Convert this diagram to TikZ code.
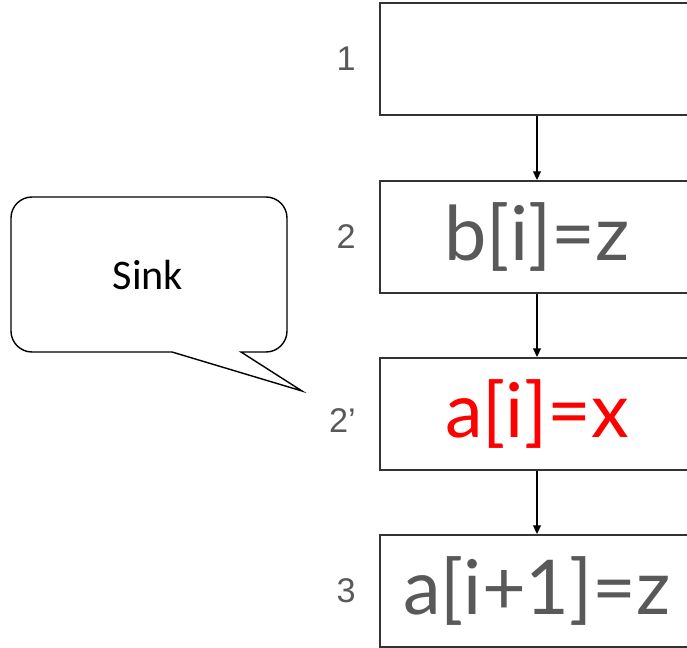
\documentclass[tikz,border=0pt]{standalone}
\usepackage{fontspec}
\setmainfont{Lato}
\newfontfamily\calloutfont{Carlito}
\newfontfamily\numfont{Liberation Sans}
\usetikzlibrary{arrows.meta, positioning}
\definecolor{txtgray}{HTML}{595959}
\definecolor{boxline}{HTML}{333333}

\begin{document}
\begin{tikzpicture}[
  x=0.02cm, y=-0.02cm,
  stmt/.style={rectangle, draw=boxline, line width=1.1pt, fill=white,
               minimum width=6.28cm, minimum height=2.24cm,
               font=\fontsize{43}{47}\selectfont, text=txtgray, text centered},
  num/.style={font=\numfont\fontsize{19.5}{22}\selectfont, text=txtgray, inner sep=0pt,
              left=0.46cm of #1},
  arr/.style={-{Triangle[length=5pt,width=4.5pt]}, black, line width=0.8pt}
]
\clip (0,0) rectangle (687,648);

\node[stmt] (s1) at (537,59)  {};
\node[stmt] (s2) at (537,237) {b[i]=z};
\node[stmt, text=red] (s3) at (537,414) {a[i]=x};
\node[stmt] (s4) at (537,591) {a[i+1]=z};

\node[num=s1] (n1) {1};
\node[num=s2] (n2) {2};
\node[num=s3, yshift=-0.14cm] (n3) {2’};
\node[num=s4] (n4) {3};

\draw[arr] (s1) -- (s2);
\draw[arr] (s2) -- (s3);
\draw[arr] (s3) -- (s4);

% callout
\draw[line width=0.8pt, fill=white] (11,275) [rounded corners=0.42cm] -- (11,197) -- (287,197) -- (287,352)
  [sharp corners] -- (241,352) -- (302,391) -- (172,352) [rounded corners=0.42cm] -- (11,352) -- cycle;
\node[font=\calloutfont\fontsize{24}{27}\selectfont] (sink) at (148,275) {Sink};
\end{tikzpicture}
\end{document}
